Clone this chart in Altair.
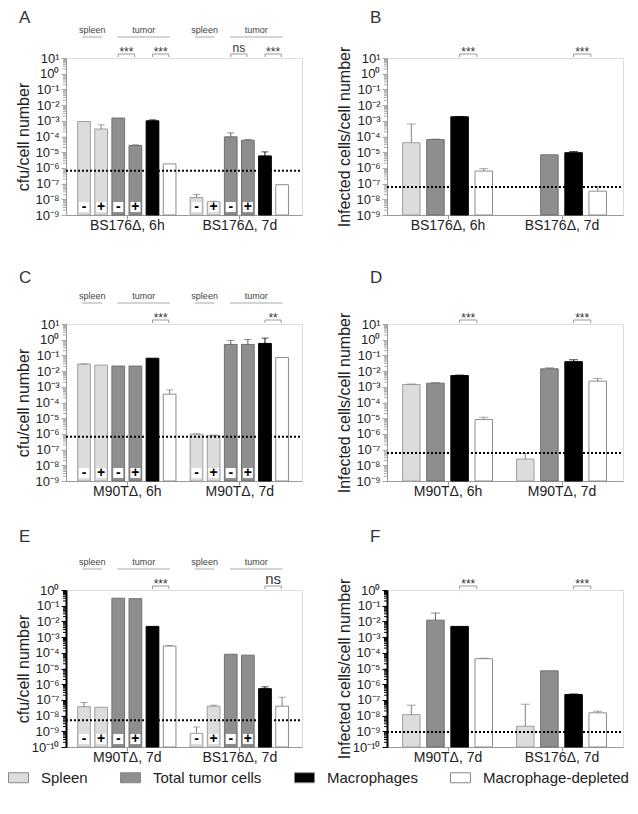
import altair as alt
import pandas as pd
import math

# ---------------- data ----------------
CELLS = ["Spleen", "Total tumor cells", "Macrophages", "Macrophage-depleted"]
CELL_FILL = ["#dcdcdc", "#8e8e8e", "#000000", "#ffffff"]
CELL_EDGE = ["#a0a0a0", "#707070", "#000000", "#8c8c8c"]
CELL_ERR = ["#808080", "#606060", "#000000", "#808080"]

CFU_BARS = ["Spleen", "Spleen", "Total tumor cells", "Total tumor cells", "Macrophages", "Macrophage-depleted"]
CFU_SIGNS = ["-", "+", "-", "+", "", ""]
INF_BARS = CELLS

A_GROUPS = ["BS176Δ, 6h", "BS176Δ, 7d"]
A_MEAN = [[9.0e-4, 3.0e-4, 1.5e-3, 2.7e-5, 1.0e-3, 1.8e-6],
          [1.3e-8, 7.0e-9, 9.5e-5, 5.8e-5, 5.8e-6, 8.5e-8]]
A_UPPER = [[None, 5.5e-4, None, 2.9e-5, 1.15e-3, None],
           [2.0e-8, 7.6e-9, 1.7e-4, 6.5e-5, 1.05e-5, None]]
A_LIMIT = 6.5e-7
A_TUMOR_SIG = ["***", "ns"]
A_MAC_SIG = ["***", "***"]

B_GROUPS = ["BS176Δ, 6h", "BS176Δ, 7d"]
B_MEAN = [[4.0e-5, 6.3e-5, 1.8e-3, 6.3e-7],
          [None, 6.8e-6, 9.3e-6, 3.3e-8]]
B_UPPER = [[6.2e-4, 6.8e-5, 1.9e-3, 8.9e-7],
           [None, None, 1.1e-5, 6.5e-8]]
B_LIMIT = 6.0e-8
B_MAC_SIG = ["***", "***"]

C_GROUPS = ["M90TΔ, 6h", "M90TΔ, 7d"]
C_MEAN = [[2.8e-2, 2.4e-2, 2.1e-2, 2.1e-2, 6.6e-2, 3.4e-4],
          [9.5e-7, 8.0e-7, 0.5, 0.5, 0.58, 7.3e-2]]
C_UPPER = [[2.9e-2, None, None, None, None, 6.4e-4],
           [1.0e-6, 8.5e-7, 0.9, 1.03, 1.26, None]]
C_LIMIT = 6.5e-7
C_TUMOR_SIG = ["", ""]
C_MAC_SIG = ["***", "**"]

D_GROUPS = ["M90TΔ, 6h", "M90TΔ, 7d"]
D_MEAN = [[1.4e-3, 1.7e-3, 5.2e-3, 8.3e-6],
          [2.5e-8, 1.4e-2, 4.0e-2, 2.3e-3]]
D_UPPER = [[1.5e-3, 1.8e-3, 5.6e-3, 1.15e-5],
           [5.6e-8, 1.6e-2, 5.3e-2, 3.4e-3]]
D_LIMIT = 6.0e-8
D_MAC_SIG = ["***", "***"]

E_GROUPS = ["M90TΔ, 7d", "BS176Δ, 7d"]
E_MEAN = [[3.7e-8, 3.4e-8, 0.3, 0.28, 4.8e-3, 2.7e-4],
          [7.4e-10, 4.0e-8, 8.1e-5, 7.1e-5, 5.2e-7, 4.0e-8]]
E_UPPER = [[6.8e-8, None, None, None, None, 2.9e-4],
           [1.9e-9, 4.6e-8, None, None, 6.8e-7, 1.48e-7]]
E_LIMIT = 5.0e-9
E_TUMOR_SIG = ["", ""]
E_MAC_SIG = ["***", "ns"]

F_GROUPS = ["M90TΔ, 7d", "BS176Δ, 7d"]
F_MEAN = [[1.15e-8, 1.2e-2, 4.8e-3, 4.2e-5],
          [2.1e-9, 7.1e-6, 2.2e-7, 1.5e-8]]
F_UPPER = [[4.6e-8, 3.4e-2, None, 4.5e-5],
           [5.3e-8, None, 2.4e-7, 1.9e-8]]
F_LIMIT = 9.0e-10
F_MAC_SIG = ["***", "***"]

CFU_TITLE = "cfu/cell number"
INF_TITLE = "Infected cells/cell number"

# ---------------- layout ----------------
W = 236
H = 157
FONT = "Liberation Sans"
SUP = str.maketrans("0123456789-", "⁰¹²³⁴⁵⁶⁷⁸⁹⁻")

LEGEND = alt.Legend(
    orient="none", legendX=-58, legendY=709, direction="horizontal", columns=4,
    title=None, symbolType="M-1,-0.5H1V0.5H-1Z", symbolSize=400,
    symbolStrokeColor="#888888", symbolStrokeWidth=1, symbolOpacity=1,
    labelFontSize=15, labelFont=FONT, labelColor="#222222", labelOffset=12,
    columnPadding=30, labelLimit=300,
)


def panel(letter, kind, groups, mean, upper, limit, mac_sig, tumor_sig,
          ydomain, ytitle, dark, letter_x, letter_y, ns_size):
    cfu = kind == "cfu"
    n = 6 if cfu else 4
    gap = 0.57 if cfu else 0.72
    padl, padr = (0.76, 0.87) if cfu else (0.8, 0.84)
    bw = 12.7 if cfu else 17.5
    capw = 7 if cfu else 9
    brpx = 17 if cfu else 18
    cells = CFU_BARS if cfu else INF_BARS
    xdom = [-padl, (n + gap) + (n - 1) + padr]
    step = W / (xdom[1] - xdom[0])

    def pos(gi, bi):
        return gi * (n + gap) + bi

    rows = []
    for gi in range(2):
        for bi in range(n):
            v = mean[gi][bi]
            if v is None:
                continue
            ci = CELLS.index(cells[bi])
            rows.append(dict(pos=pos(gi, bi), cell=cells[bi], mean=v,
                             upper=upper[gi][bi], base=ydomain[0],
                             edge=CELL_EDGE[ci], errc=CELL_ERR[ci],
                             sign=CFU_SIGNS[bi] if cfu else ""))
    df = pd.DataFrame(rows)
    dfe = df[df["upper"].notna()]

    lo = round(math.log10(ydomain[0]))
    hi = round(math.log10(ydomain[1]))
    majors = [10.0 ** k for k in range(lo, hi + 1)]
    labels = ["10" + str(k).translate(SUP) for k in range(lo, hi + 1)]
    minors = [m * 10.0 ** k for k in range(lo, hi) for m in range(2, 10)]
    arr = "[" + ",".join("'" + s + "'" for s in labels) + "]"
    lab_expr = f"{arr}[round(log(datum.value)/LN10) - ({lo})]"

    axc = "#000000" if dark else "#999999"
    tkc = "#000000" if dark else "#aaaaaa"
    xs = alt.Scale(domain=xdom, nice=False, zero=False)
    ys = alt.Scale(type="log", domain=ydomain, nice=False)

    centers = [pos(gi, (n - 1) / 2) for gi in range(2)]
    mid = (centers[0] + centers[1]) / 2
    xaxis = alt.Axis(values=centers,
                     labelExpr=f"datum.value < {mid} ? '{groups[0]}' : '{groups[1]}'",
                     tickSize=4, tickColor="#999999", domainColor="#999999",
                     labelFontSize=14, labelFont=FONT, labelColor="#222222",
                     labelPadding=-1, title=None, grid=False, labelFlush=False,
                     labelOverlap=False)
    yaxis = alt.Axis(values=majors, labelExpr=lab_expr, tickSize=5, tickColor=tkc,
                     domainColor=axc, domainWidth=2 if dark else 1,
                     labelFontSize=13, labelFont=FONT, labelColor="#222222",
                     labelPadding=2, labelOverlap=False, labelFlush=False,
                     title=ytitle, titleFontSize=16, titleFont=FONT,
                     titleFontWeight="normal", titleColor="#222222", titleX=-35,
                     grid=False)

    bars = alt.Chart(df).mark_bar(size=bw, strokeWidth=1).encode(
        x=alt.X("pos:Q", scale=xs, axis=xaxis),
        y=alt.Y("mean:Q", scale=ys, axis=yaxis),
        y2="base:Q",
        fill=alt.Fill("cell:N", scale=alt.Scale(domain=CELLS, range=CELL_FILL), legend=LEGEND),
        stroke=alt.Stroke("edge:N", scale=None),
    )
    err = alt.Chart(dfe).mark_rule(strokeWidth=1).encode(
        x="pos:Q", y="mean:Q", y2="upper:Q", stroke=alt.Stroke("errc:N", scale=None))
    cap = alt.Chart(dfe).mark_tick(orient="horizontal", size=capw, thickness=1).encode(
        x="pos:Q", y="upper:Q", color=alt.Color("errc:N", scale=None))
    lim = alt.Chart(pd.DataFrame({"limit": [limit]})).mark_rule(
        strokeDash=[2, 2], strokeWidth=2, color="black").encode(
        y="limit:Q", x=alt.value(0), x2=alt.value(W))
    minor = alt.Chart(pd.DataFrame({"v": minors})).mark_tick(
        orient="horizontal", size=3, thickness=1, color=tkc, opacity=1).encode(
        y="v:Q", x=alt.value(-1.5))

    layers = [bars, err, cap, lim, minor]

    if cfu:
        sg = df[df["sign"] != ""]
        layers.append(alt.Chart(sg).mark_square(size=100, color="white", opacity=1, strokeWidth=0).encode(
            x="pos:Q", y=alt.value(H - 8)))
        layers.append(alt.Chart(sg).mark_text(fontSize=14, fontWeight="bold", color="#000000",
                                             baseline="middle").encode(
            x="pos:Q", y=alt.value(H - 8), text="sign:N"))
        hdr = []
        for gi in range(2):
            hdr.append(dict(x1=pos(gi, 0) - 0.1, x2=pos(gi, 1) + 0.05, t="spleen"))
            hdr.append(dict(x1=pos(gi, 2) - 0.05, x2=pos(gi, 5) + 0.02, t="tumor"))
        hd = pd.DataFrame(hdr)
        hd["xm"] = (hd["x1"] + hd["x2"]) / 2
        layers.append(alt.Chart(hd).mark_rule(color="#aaaaaa", strokeWidth=1).encode(
            x="x1:Q", x2="x2:Q", y=alt.value(-21)))
        layers.append(alt.Chart(hd).mark_text(fontSize=9, color="#444444", baseline="alphabetic").encode(
            x="xm:Q", y=alt.value(-25), text="t:N"))

    br = []
    for gi in range(2):
        if mac_sig[gi]:
            br.append(dict(x1=pos(gi, n - 2), t=mac_sig[gi]))
        if tumor_sig is not None and tumor_sig[gi]:
            br.append(dict(x1=pos(gi, 2), t=tumor_sig[gi]))
    bd = pd.DataFrame(br)
    bd["x2"] = bd["x1"] + brpx / step
    bd["xm"] = (bd["x1"] + bd["x2"]) / 2
    stars = bd[bd["t"] != "ns"]
    ns = bd[bd["t"] == "ns"]
    layers.append(alt.Chart(bd).mark_rule(color="#999999", strokeWidth=1).encode(
        x="x1:Q", x2="x2:Q", y=alt.value(-4)))
    layers.append(alt.Chart(bd).mark_rule(color="#999999", strokeWidth=1).encode(
        x="x1:Q", y=alt.value(-4), y2=alt.value(-1)))
    layers.append(alt.Chart(bd).mark_rule(color="#999999", strokeWidth=1).encode(
        x="x2:Q", y=alt.value(-4), y2=alt.value(-1)))
    if len(stars):
        layers.append(alt.Chart(stars).mark_text(color="#333333", fontSize=12, baseline="alphabetic").encode(
            x="xm:Q", y=alt.value(-2), text="t:N"))
    if len(ns):
        layers.append(alt.Chart(ns).mark_text(color="#333333", fontSize=ns_size, baseline="alphabetic").encode(
            x="xm:Q", y=alt.value(-6), text="t:N"))

    layers.append(alt.Chart(pd.DataFrame({"t": [letter]})).mark_text(
        fontSize=17, align="left", baseline="alphabetic", color="#333333").encode(
        x=alt.value(letter_x), y=alt.value(letter_y), text="t:N"))

    # blank strip over the axis line above the plot top
    layers.append(alt.Chart(pd.DataFrame({"k": [0]})).mark_rule(color="white", strokeWidth=3).encode(
        x=alt.value(0), y=alt.value(-47), y2=alt.value(-0.7)))

    return alt.layer(*layers).properties(width=W, height=H)


pA = panel("A", "cfu", A_GROUPS, A_MEAN, A_UPPER, A_LIMIT, A_MAC_SIG, A_TUMOR_SIG,
           [1e-9, 10], CFU_TITLE, False, -47, -35, 12)
pB = panel("B", "inf", B_GROUPS, B_MEAN, B_UPPER, B_LIMIT, B_MAC_SIG, None,
           [1e-9, 10], INF_TITLE, False, -17, -35, 12)
pC = panel("C", "cfu", C_GROUPS, C_MEAN, C_UPPER, C_LIMIT, C_MAC_SIG, C_TUMOR_SIG,
           [1e-9, 10], CFU_TITLE, False, -47, -41, 12)
pD = panel("D", "inf", D_GROUPS, D_MEAN, D_UPPER, D_LIMIT, D_MAC_SIG, None,
           [1e-9, 10], INF_TITLE, False, -17, -41, 12)
pE = panel("E", "cfu", E_GROUPS, E_MEAN, E_UPPER, E_LIMIT, E_MAC_SIG, E_TUMOR_SIG,
           [1e-10, 1], CFU_TITLE, True, -47, -48, 15)
pF = panel("F", "inf", F_GROUPS, F_MEAN, F_UPPER, F_LIMIT, F_MAC_SIG, None,
           [1e-10, 1], INF_TITLE, True, -17, -48, 12)

chart = alt.concat(pA, pB, pC, pD, pE, pF, columns=2,
                   spacing=alt.RowColnumber(row=109, column=85), bounds="flush").properties(
    padding=0
).configure_view(stroke=None).configure(font=FONT)

chart.save("out.html", embed_options={"renderer": "svg", "actions": False})
